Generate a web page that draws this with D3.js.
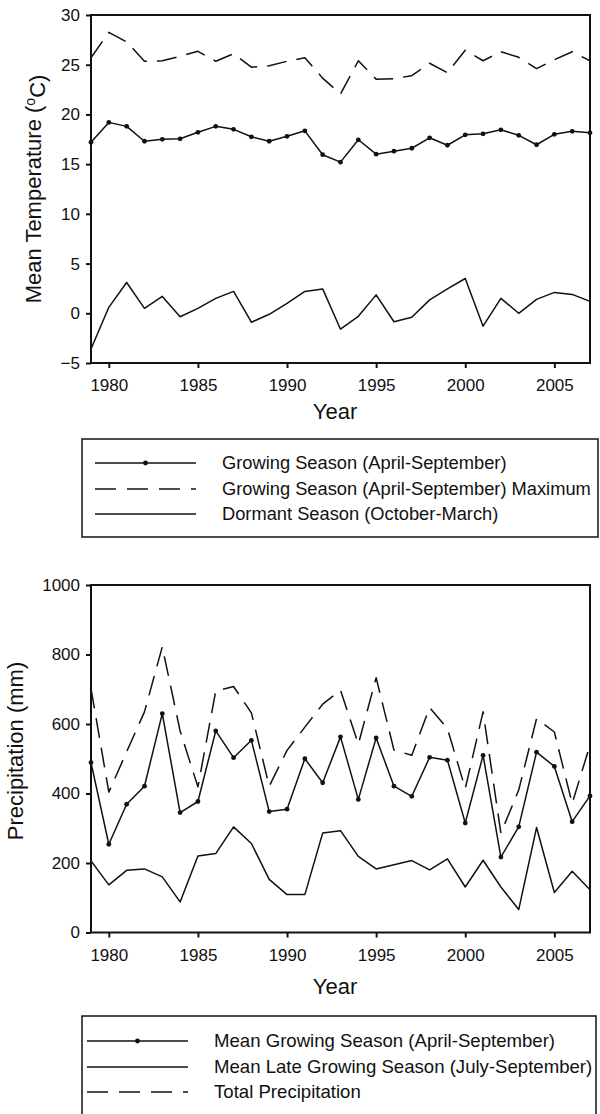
<!DOCTYPE html>
<html>
<head>
<meta charset="utf-8">
<script src="https://cdn.jsdelivr.net/npm/d3@7"></script>
<style>
  body { margin: 0; background: #fff; }
  svg text { font-family: "Liberation Sans", Arial, sans-serif; fill: #111; }
</style>
</head>
<body>
<svg id="chart"></svg>
<script>
// Years along the x axis
const years = [1979, 1980, 1981, 1982, 1983, 1984, 1985, 1986, 1987, 1988,
               1989, 1990, 1991, 1992, 1993, 1994, 1995, 1996, 1997, 1998,
               1999, 2000, 2001, 2002, 2003, 2004, 2005, 2006, 2007];
const yearTicks = [1980, 1985, 1990, 1995, 2000, 2005];

// Temperature (deg C)
const growingMean = [17.2, 19.2, 18.8, 17.3, 17.5, 17.55, 18.2, 18.8, 18.5, 17.75,
                     17.3, 17.8, 18.35, 15.95, 15.2, 17.45, 16.0, 16.3, 16.6, 17.65,
                     16.9, 17.95, 18.05, 18.45, 17.9, 16.95, 18.0, 18.3, 18.15];
const growingMax = [25.7, 28.25, 27.3, 25.35, 25.4, 25.85, 26.35, 25.35, 26.1, 24.75,
                    24.9, 25.35, 25.7, 23.65, 22.05, 25.4, 23.55, 23.6, 23.9, 25.15,
                    24.2, 26.45, 25.4, 26.3, 25.75, 24.6, 25.5, 26.3, 25.4];
const dormantMean = [-3.6, 0.6, 3.1, 0.5, 1.7, -0.35, 0.5, 1.5, 2.2, -0.9,
                     -0.1, 1.0, 2.2, 2.45, -1.6, -0.3, 1.85, -0.85, -0.4, 1.35,
                     2.45, 3.5, -1.3, 1.5, 0.0, 1.4, 2.1, 1.9, 1.2];
const tempTicks = [-5, 0, 5, 10, 15, 20, 25, 30];

// Precipitation (mm)
const precipGrowing = [489, 254, 369, 421, 630, 345, 377, 580, 503, 553,
                       348, 355, 500, 431, 563, 383, 560, 421, 392, 504,
                       496, 315, 510, 217, 304, 519, 478, 319, 393];
const precipLate = [206, 137, 179, 183, 160, 88, 220, 227, 304, 256,
                    153, 109, 109, 286, 293, 219, 183, 195, 207, 180,
                    212, 131, 208, 131, 66, 302, 115, 176, 123];
const precipTotal = [702, 404, 520, 635, 822, 580, 419, 695, 708, 632,
                     421, 524, 591, 657, 697, 542, 733, 525, 510, 647,
                     587, 414, 635, 286, 410, 615, 577, 371, 540];
const precipTicks = [0, 200, 400, 600, 800, 1000];

const ink = "#111";
const dash = "20,10";

const svg = d3.select("#chart")
    .attr("width", 600)
    .attr("height", 1114);

const x = d3.scaleLinear().domain([1979, 2007]).range([91, 590]);

function drawPanel(p) {
    const y = d3.scaleLinear().domain(p.domain).range([p.bottom, p.top]);
    const g = svg.append("g");

    // data lines
    p.series.forEach(s => {
        const line = d3.line()
            .x((d, i) => x(years[i]))
            .y(d => y(d));
        g.append("path")
            .datum(s.values)
            .attr("d", line)
            .attr("fill", "none")
            .attr("stroke", ink)
            .attr("stroke-width", 1.5)
            .attr("stroke-linejoin", "round")
            .attr("stroke-dasharray", s.dashed ? dash : null);
        if (s.dots) {
            g.selectAll(null)
                .data(s.values)
                .enter()
                .append("circle")
                .attr("cx", (d, i) => x(years[i]))
                .attr("cy", d => y(d))
                .attr("r", 2.4)
                .attr("fill", ink);
        }
    });

    // frame around the plot
    g.append("rect")
        .attr("x", x.range()[0])
        .attr("y", p.top)
        .attr("width", x.range()[1] - x.range()[0])
        .attr("height", p.bottom - p.top)
        .attr("fill", "none")
        .attr("stroke", ink)
        .attr("stroke-width", 2);

    // x axis
    const xAxis = g.append("g")
        .attr("transform", `translate(0,${p.bottom})`)
        .call(d3.axisBottom(x).tickValues(yearTicks).tickFormat(d3.format("d"))
            .tickSize(5).tickSizeOuter(0).tickPadding(11));
    xAxis.select(".domain").remove();

    // y axis
    const yAxis = g.append("g")
        .attr("transform", `translate(${x.range()[0]},0)`)
        .call(d3.axisLeft(y).tickValues(p.ticks).tickFormat(d3.format("d"))
            .tickSize(5).tickSizeOuter(0).tickPadding(6));
    yAxis.select(".domain").remove();

    [xAxis, yAxis].forEach(a => {
        a.attr("font-family", null).attr("font-size", null);
        a.selectAll(".tick line").attr("stroke", ink).attr("stroke-width", 2);
        a.selectAll(".tick text").style("font-size", "17px").attr("fill", ink);
    });

    // axis titles
    const yTitle = g.append("text")
        .attr("transform", `translate(${p.yTitleX},${p.yTitleY})rotate(-90)`)
        .attr("text-anchor", "middle")
        .style("font-size", "22px");
    yTitle.append("tspan").text(p.yTitle[0]);
    if (p.yTitle.length > 1) {
        yTitle.append("tspan").attr("dy", "-0.45em").style("font-size", "14px").text(p.yTitle[1]);
        yTitle.append("tspan").attr("dy", "0.45em").text(p.yTitle[2]);
    }

    g.append("text")
        .attr("x", 335)
        .attr("y", p.yearY)
        .attr("text-anchor", "middle")
        .style("font-size", "22px")
        .text("Year");

    // legend box
    const L = p.legend;
    g.append("rect")
        .attr("x", 82)
        .attr("y", L.top)
        .attr("width", L.width)
        .attr("height", L.height)
        .attr("fill", "none")
        .attr("stroke", ink)
        .attr("stroke-width", 1.5);

    L.items.forEach((item, i) => {
        const ly = L.rows[i];
        g.append("line")
            .attr("x1", L.lineX[0])
            .attr("x2", L.lineX[1])
            .attr("y1", ly)
            .attr("y2", ly)
            .attr("stroke", ink)
            .attr("stroke-width", 1.5)
            .attr("stroke-dasharray", item.dashed ? "21,11" : null);
        if (item.dots) {
            g.append("circle")
                .attr("cx", (L.lineX[0] + L.lineX[1]) / 2)
                .attr("cy", ly)
                .attr("r", 2.4)
                .attr("fill", ink);
        }
        g.append("text")
            .attr("x", L.textX)
            .attr("y", ly + 6)
            .style("font-size", L.fontSize)
            .text(item.label);
    });
}

// Temperature panel
drawPanel({
    top: 15,
    bottom: 363,
    domain: [-5, 30],
    ticks: tempTicks,
    series: [
        { values: growingMax, dashed: true },
        { values: growingMean, dots: true },
        { values: dormantMean }
    ],
    yTitle: ["Mean Temperature (", "o", "C)"],
    yTitleX: 41,
    yTitleY: 189,
    yearY: 419,
    legend: {
        top: 439, width: 516, height: 98,
        rows: [463, 489, 514],
        lineX: [95, 196],
        textX: 222,
        fontSize: "18.3px",
        items: [
            { label: "Growing Season (April-September)", dots: true },
            { label: "Growing Season (April-September) Maximum", dashed: true },
            { label: "Dormant Season (October-March)" }
        ]
    }
});

// Precipitation panel
drawPanel({
    top: 585,
    bottom: 932.5,
    domain: [0, 1000],
    ticks: precipTicks,
    series: [
        { values: precipTotal, dashed: true },
        { values: precipGrowing, dots: true },
        { values: precipLate }
    ],
    yTitle: ["Precipitation (mm)"],
    yTitleX: 23,
    yTitleY: 751,
    yearY: 994,
    legend: {
        top: 1016, width: 514, height: 102,
        rows: [1041, 1067, 1092],
        lineX: [87, 188],
        textX: 214,
        fontSize: "18.6px",
        items: [
            { label: "Mean Growing Season (April-September)", dots: true },
            { label: "Mean Late Growing Season (July-September)" },
            { label: "Total Precipitation", dashed: true }
        ]
    }
});
</script>
</body>
</html>
